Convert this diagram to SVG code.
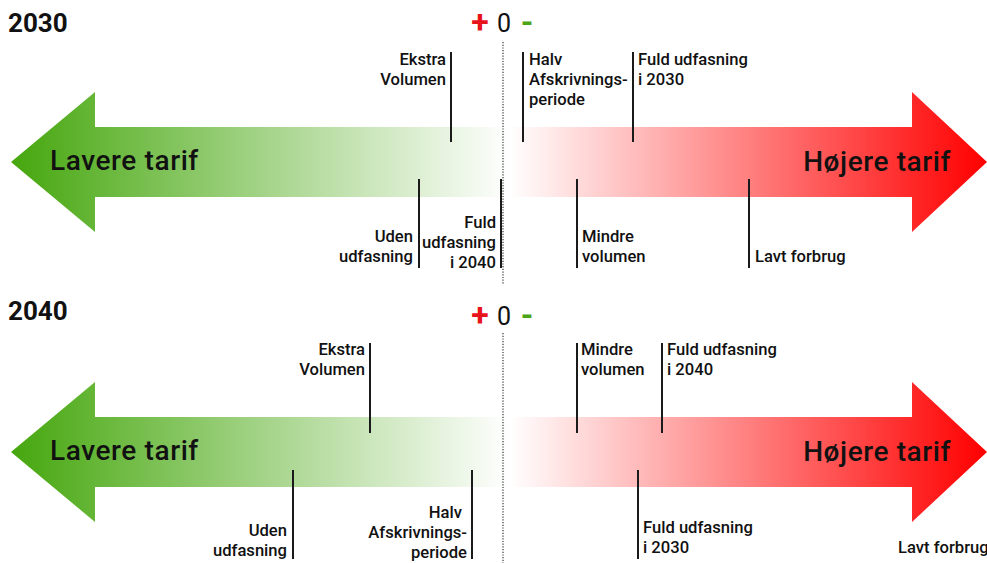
<svg xmlns="http://www.w3.org/2000/svg" width="987" height="563" viewBox="0 0 987 563">
<defs>
<linearGradient id="gG" gradientUnits="userSpaceOnUse" x1="11" y1="0" x2="510" y2="0">
<stop offset="0" stop-color="#46a70e"/>
<stop offset="1" stop-color="#ffffff"/>
</linearGradient>
<linearGradient id="gR" gradientUnits="userSpaceOnUse" x1="510" y1="0" x2="987" y2="0">
<stop offset="0" stop-color="#ffffff"/>
<stop offset="1" stop-color="#ff0000"/>
</linearGradient>
</defs>
<style>
text{font-family:Roboto,"Liberation Sans",Arial,sans-serif;font-weight:500;fill:#111}
.lbl{font-size:16.6px}
.end{text-anchor:end}
.big{font-size:28px;letter-spacing:0.6px}
.title{font-size:26px;font-weight:bold}
.sym{font-size:25px;text-anchor:middle;font-weight:400}
.plus{fill:#e8141b;font-weight:bold;font-size:32px}
.minus{fill:#4aa616;font-weight:bold;font-size:32px}
.tick{stroke:#1a1a1a;stroke-width:2;fill:none}
.dot{stroke:#444;stroke-width:1.3;stroke-dasharray:1.2 1.5;fill:none}
</style>

<g id="year2030">
<text class="title" x="8" y="32">2030</text>
<text class="sym plus" x="480" y="33">+</text>
<text class="sym" x="504" y="32">0</text>
<text class="sym minus" x="527" y="33">-</text>
</g>
<g id="arrow-lower-2030">
<polygon points="11,162 95,92 95,127 510,127 510,197 95,197 95,232" fill="url(#gG)"/>
<text class="big" x="50" y="170">Lavere tarif</text>
</g>
<g id="arrow-higher-2030">
<polygon points="510,127 912,127 912,92 987,162 912,232 912,197 510,197" fill="url(#gR)"/>
<text class="big end" x="951" y="171">Højere tarif</text>
</g>

<g id="year2040">
<text class="title" x="8" y="320">2040</text>
<text class="sym plus" x="480" y="326">+</text>
<text class="sym" x="504" y="325">0</text>
<text class="sym minus" x="527" y="326">-</text>
</g>
<g id="arrow-lower-2040">
<polygon points="11,452 95,382 95,417 510,417 510,487 95,487 95,522" fill="url(#gG)"/>
<text class="big" x="50" y="460">Lavere tarif</text>
</g>
<g id="arrow-higher-2040">
<polygon points="510,417 912,417 912,382 987,452 912,522 912,487 510,487" fill="url(#gR)"/>
<text class="big end" x="951" y="461">Højere tarif</text>
</g>

<g id="connectors">
<line class="dot" x1="503" y1="42" x2="503" y2="284"/>
<line class="dot" x1="503" y1="333" x2="503" y2="563"/>
<line class="tick" x1="451" y1="52" x2="451" y2="142"/>
<line class="tick" x1="523" y1="52" x2="523" y2="142"/>
<line class="tick" x1="633" y1="52" x2="633" y2="142"/>
<line class="tick" x1="419" y1="179" x2="419" y2="268"/>
<line class="tick" x1="501" y1="179" x2="501" y2="268"/>
<line class="tick" x1="577" y1="179" x2="577" y2="268"/>
<line class="tick" x1="749" y1="179" x2="749" y2="268"/>
<line class="tick" x1="370" y1="343" x2="370" y2="433"/>
<line class="tick" x1="577" y1="343" x2="577" y2="433"/>
<line class="tick" x1="662" y1="343" x2="662" y2="433"/>
<line class="tick" x1="293" y1="470" x2="293" y2="559"/>
<line class="tick" x1="472" y1="470" x2="472" y2="559"/>
<line class="tick" x1="638" y1="470" x2="638" y2="559"/>
</g>

<g id="t30-ekstra"><text class="lbl end" x="446" y="65">Ekstra</text><text class="lbl end" x="446" y="85">Volumen</text></g>
<g id="t30-halv"><text class="lbl" x="529" y="65">Halv</text><text class="lbl" x="529" y="85">Afskrivnings-</text><text class="lbl" x="529" y="105">periode</text></g>
<g id="t30-fuld2030"><text class="lbl" x="638" y="65">Fuld udfasning</text><text class="lbl" x="638" y="85">i 2030</text></g>
<g id="t30-uden"><text class="lbl end" x="413" y="242">Uden</text><text class="lbl end" x="413" y="262">udfasning</text></g>
<g id="t30-fuld2040"><text class="lbl end" x="496" y="228">Fuld</text><text class="lbl end" x="496" y="248">udfasning</text><text class="lbl end" x="496" y="268">i 2040</text></g>
<g id="t30-mindre"><text class="lbl" x="582" y="242">Mindre</text><text class="lbl" x="582" y="262">volumen</text></g>
<g id="t30-lavt"><text class="lbl" x="755" y="262">Lavt forbrug</text></g>

<g id="t40-ekstra"><text class="lbl end" x="365" y="355">Ekstra</text><text class="lbl end" x="365" y="375">Volumen</text></g>
<g id="t40-mindre"><text class="lbl" x="581" y="355">Mindre</text><text class="lbl" x="581" y="375">volumen</text></g>
<g id="t40-fuld2040"><text class="lbl" x="667" y="355">Fuld udfasning</text><text class="lbl" x="667" y="375">i 2040</text></g>
<g id="t40-uden"><text class="lbl end" x="287" y="536">Uden</text><text class="lbl end" x="287" y="556">udfasning</text></g>
<g id="t40-halv"><text class="lbl end" x="462" y="518">Halv</text><text class="lbl end" x="467" y="538">Afskrivnings-</text><text class="lbl end" x="467" y="558">periode</text></g>
<g id="t40-fuld2030"><text class="lbl" x="643" y="533">Fuld udfasning</text><text class="lbl" x="643" y="553">i 2030</text></g>
<g id="t40-lavt"><text class="lbl" x="898" y="553">Lavt forbrug</text></g>
</svg>
